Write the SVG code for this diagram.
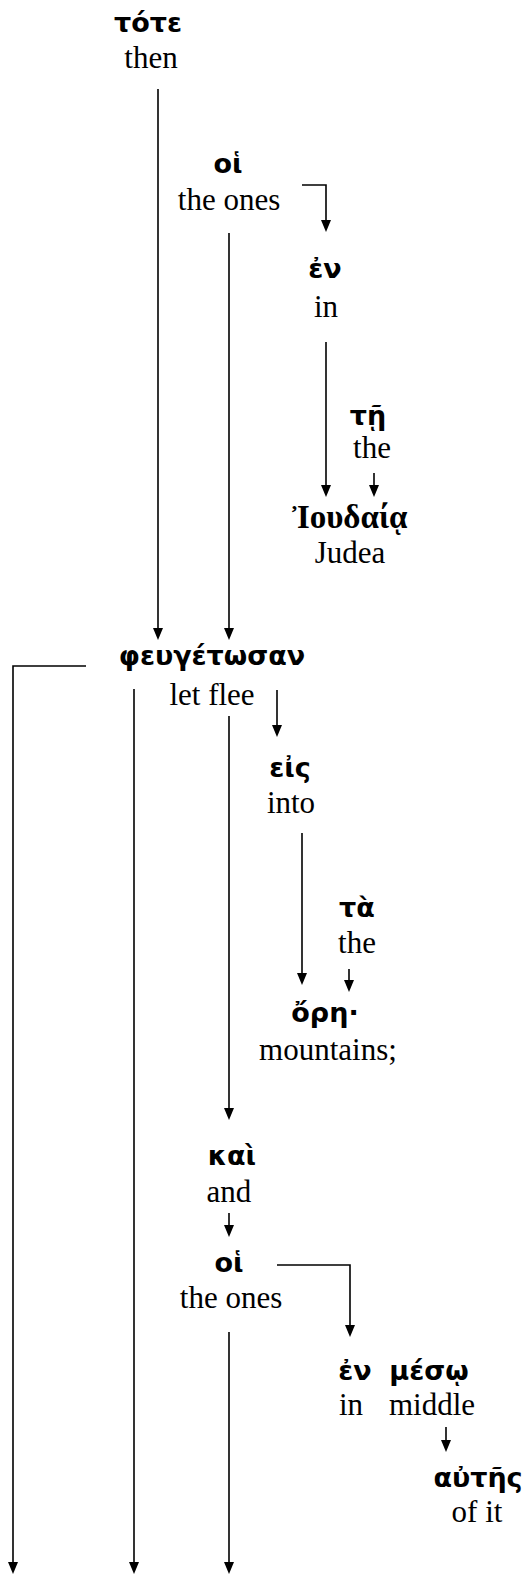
<svg xmlns="http://www.w3.org/2000/svg" width="527" height="1574" viewBox="0 0 527 1574">
  <style>
    .gk { font-family: "DejaVu Sans", "Noto Sans", sans-serif; font-weight: bold; font-size: 27px; fill: #000; text-anchor: middle; }
    .gks { font-family: "Liberation Serif", "DejaVu Serif", serif; font-weight: bold; font-size: 33px; fill: #000; text-anchor: middle; }
    .en { font-family: "Liberation Serif", "Times New Roman", serif; font-size: 31px; fill: #000; text-anchor: middle; }
    .ln { fill: none; stroke: #000; stroke-width: 1.6; }
  </style>

  <g id="connectors">
    <path class="ln" d="M158,89 V630"/>
    <path class="ln" d="M302,185 H326 V222"/>
    <path class="ln" d="M229,233 V630"/>
    <path class="ln" d="M326,342 V487"/>
    <path class="ln" d="M374,473 V487"/>
    <path class="ln" d="M86,666 H13 V1564"/>
    <path class="ln" d="M134,689 V1564"/>
    <path class="ln" d="M229,716 V1110"/>
    <path class="ln" d="M277,690 V727"/>
    <path class="ln" d="M302,833 V975"/>
    <path class="ln" d="M349,969 V982"/>
    <path class="ln" d="M229,1213 V1227"/>
    <path class="ln" d="M277,1265 H350 V1327"/>
    <path class="ln" d="M229,1332 V1564"/>
    <path class="ln" d="M446,1427 V1442"/>
  </g>
  <g id="arrowheads" fill="#000">
    <path d="M153,628 L163,628 L158,640 Z"/>
    <path d="M321,220 L331,220 L326,232 Z"/>
    <path d="M224,628 L234,628 L229,640 Z"/>
    <path d="M321,485 L331,485 L326,497 Z"/>
    <path d="M369,485 L379,485 L374,497 Z"/>
    <path d="M8,1562 L18,1562 L13,1574 Z"/>
    <path d="M129,1562 L139,1562 L134,1574 Z"/>
    <path d="M224,1108 L234,1108 L229,1120 Z"/>
    <path d="M272,725 L282,725 L277,737 Z"/>
    <path d="M297,973 L307,973 L302,985 Z"/>
    <path d="M344,980 L354,980 L349,992 Z"/>
    <path d="M224,1225 L234,1225 L229,1237 Z"/>
    <path d="M345,1325 L355,1325 L350,1337 Z"/>
    <path d="M224,1562 L234,1562 L229,1574 Z"/>
    <path d="M441,1440 L451,1440 L446,1452 Z"/>
  </g>

  <g id="n-tote"><text class="gk" x="148" y="32">τότε</text><text class="en" x="151" y="68">then</text></g>
  <g id="n-hoi1"><text class="gk" x="228" y="173">οἱ</text><text class="en" x="229" y="210">the ones</text></g>
  <g id="n-en1"><text class="gk" x="325" y="278">ἐν</text><text class="en" x="326" y="317">in</text></g>
  <g id="n-te"><text class="gk" x="368" y="425">τῇ</text><text class="en" x="372" y="458">the</text></g>
  <g id="n-ioudaia"><text class="gks" x="350" y="528">Ἰουδαίᾳ</text><text class="en" x="350" y="563">Judea</text></g>
  <g id="n-pheugetosan"><text class="gk" x="212" y="665">φευγέτωσαν</text><text class="en" x="212" y="705">let flee</text></g>
  <g id="n-eis"><text class="gk" x="290" y="777">εἰς</text><text class="en" x="291" y="813">into</text></g>
  <g id="n-ta"><text class="gk" x="357" y="917">τὰ</text><text class="en" x="357" y="953">the</text></g>
  <g id="n-ore"><text class="gk" x="325" y="1022">ὄρη·</text><text class="en" x="328" y="1060">mountains;</text></g>
  <g id="n-kai"><text class="gk" x="232" y="1165">καὶ</text><text class="en" x="229" y="1202">and</text></g>
  <g id="n-hoi2"><text class="gk" x="229" y="1272">οἱ</text><text class="en" x="231" y="1308">the ones</text></g>
  <g id="n-en2"><text class="gk" x="355" y="1380">ἐν</text><text class="en" x="351" y="1415">in</text></g>
  <g id="n-meso"><text class="gk" x="429" y="1380">μέσῳ</text><text class="en" x="432" y="1415">middle</text></g>
  <g id="n-autes"><text class="gk" x="478" y="1487">αὐτῆς</text><text class="en" x="477" y="1522">of it</text></g>
</svg>
